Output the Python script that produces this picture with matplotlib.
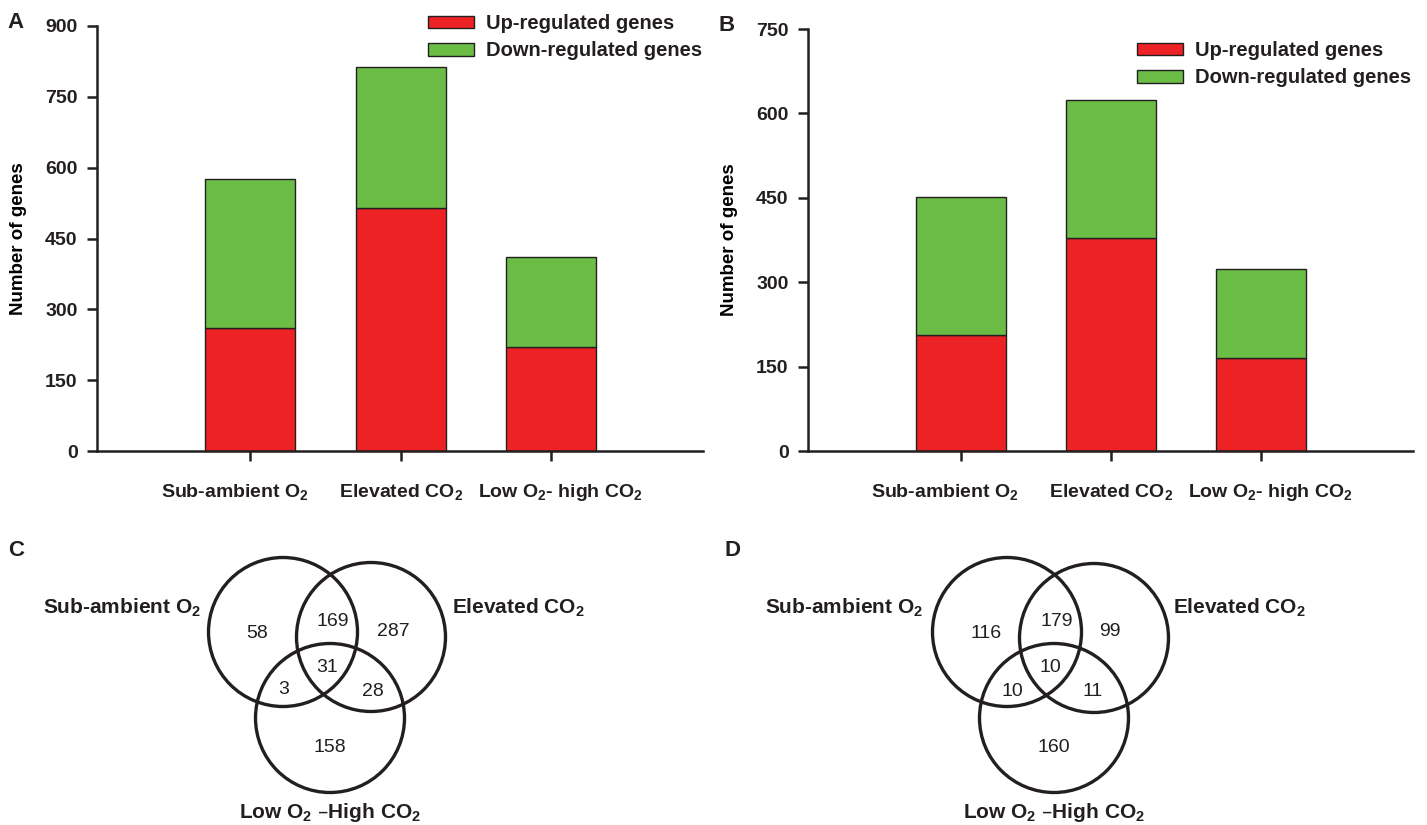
import matplotlib
matplotlib.use('Agg')
from matplotlib import pyplot as plt
from matplotlib.patches import Circle

plt.rcParams['font.family'] = ['Liberation Sans', 'DejaVu Sans']
plt.rcParams['mathtext.default'] = 'regular'
plt.rcParams['text.color'] = '#231F20'

# data
categories = ['Sub-ambient O$_2$', 'Elevated CO$_2$', 'Low O$_2$- high CO$_2$']
up_a = [261, 515, 220]
down_a = [315, 299, 191]
up_b = [206, 378, 165]
down_b = [246, 246, 158]
yticks_a = [0, 150, 300, 450, 600, 750, 900]
yticks_b = [0, 150, 300, 450, 600, 750]
series_names = ['Up-regulated genes', 'Down-regulated genes']

# venn regions: only S, S&E, only E, S&L, S&E&L, E&L, only L
venn_c = [58, 169, 287, 3, 31, 28, 158]
venn_d = [116, 179, 99, 10, 10, 11, 160]
set_names = ['Sub-ambient O$_2$', 'Elevated CO$_2$', 'Low O$_2$ \u2013High CO$_2$']

RED = '#ED2224'
GREEN = '#6BBD45'
INK = '#231F20'

W, H = 1427, 825
fig = plt.figure(figsize=(W / 100, H / 100), dpi=100)


def px_axes(left, top, right, bottom):
    return fig.add_axes([left / W, 1 - bottom / H, (right - left) / W, (bottom - top) / H])


def bar_panel(ax, up, down, yticks, letter, leg_xy):
    x = range(len(categories))
    ax.bar(x, up, width=0.6, color=RED, edgecolor=INK, linewidth=1, label=series_names[0])
    ax.bar(x, down, bottom=up, width=0.6, color=GREEN, edgecolor=INK, linewidth=1,
           label=series_names[1])
    ax.set_xlim(-1.02, 3.01)
    ax.set_ylim(0, yticks[-1])
    ax.set_yticks(yticks)
    ax.set_xticks(list(x))
    ax.set_xticklabels([])
    # category labels, nudged a little off their ticks as in the original
    for i, (name, dx) in enumerate(zip(categories, [-0.106, 0, 0.06])):
        ax.text(i + dx, -0.108, name, transform=ax.get_xaxis_transform(), ha='center',
                va='baseline', fontsize=14, fontweight='bold')
    for lab in ax.get_yticklabels():
        lab.set_fontsize(14)
        lab.set_fontweight('bold')
    ax.spines['top'].set_visible(False)
    ax.spines['right'].set_visible(False)
    ax.spines['left'].set_linewidth(1.8)
    ax.spines['bottom'].set_linewidth(1.8)
    ax.spines['left'].set_color(INK)
    ax.spines['bottom'].set_color(INK)
    ax.tick_params(axis='y', length=7, width=1.8, pad=7, colors=INK)
    ax.tick_params(axis='x', length=7, width=1.8, colors=INK)
    ax.set_ylabel('Number of genes', fontsize=13.5, fontweight='bold')
    ax.yaxis.set_label_coords(-0.115, 0.5)
    ax.text(-0.148, 1.008, letter, transform=ax.transAxes, fontsize=16, fontweight='bold',
            va='center')
    ax.legend(loc='upper left', bbox_to_anchor=(leg_xy[0] / W, 1 - leg_xy[1] / H),
              bbox_transform=fig.transFigure, frameon=False, borderpad=0,
              borderaxespad=0, handlelength=2.3, handleheight=0.6,
              handletextpad=0.6, labelspacing=0.42, prop={'size': 14.5, 'weight': 'bold'})


ax_a = px_axes(97, 26, 703, 451)
bar_panel(ax_a, up_a, down_a, yticks_a, 'A', (428, 14))
ax_b = px_axes(808, 29, 1413, 451)
bar_panel(ax_b, up_b, down_b, yticks_b, 'B', (1137, 41))

# venn diagrams, drawn in pixel space
ax_v = fig.add_axes([0, 0, 1, 1])
ax_v.set_xlim(0, W)
ax_v.set_ylim(H, 0)
ax_v.axis('off')
ax_v.patch.set_alpha(0)

circle_c = [(283, 632), (371, 637), (330, 718)]
circle_d = [(1007, 632), (1094, 638), (1054, 718)]
num_pos_c = [(257, 633), (333, 622), (393, 632), (284, 690), (327, 667), (373, 691), (330, 747)]
num_pos_d = [(986, 633), (1057, 622), (1110, 632), (1012, 691), (1050, 667), (1093, 691),
             (1054, 747)]


def venn(counts, centers, num_pos, label_pos, letter, letter_xy):
    for c in centers:
        ax_v.add_patch(Circle(c, 74.5, fill=False, lw=2.4, ec=INK))
    for n, (xx, yy) in zip(counts, num_pos):
        ax_v.text(xx, yy, str(n), fontsize=14, ha='center', va='center')
    ha = ['right', 'left', 'center']
    for name, (xx, yy), h in zip(set_names, label_pos, ha):
        ax_v.text(xx, yy, name, fontsize=15, fontweight='bold', ha=h, va='center')
    ax_v.text(letter_xy[0], letter_xy[1], letter, fontsize=16, fontweight='bold', va='center')


venn(venn_c, circle_c, num_pos_c, [(201, 608), (452, 608), (330, 813)], 'C', (8, 551))
venn(venn_d, circle_d, num_pos_d, [(923, 608), (1173, 608), (1054, 813)], 'D', (724, 551))

fig.savefig('out.png', dpi=100)
